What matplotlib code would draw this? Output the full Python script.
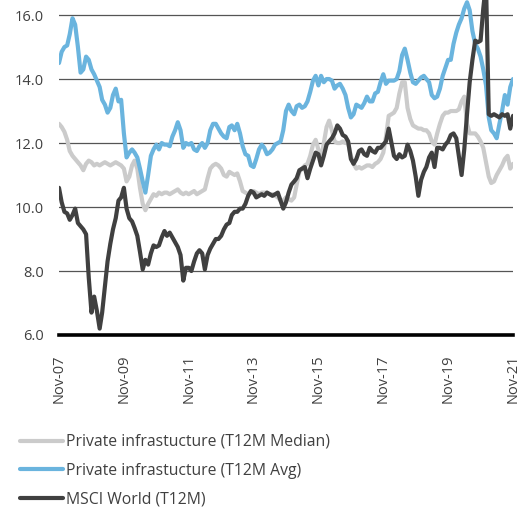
import matplotlib
matplotlib.use("Agg")
import matplotlib.pyplot as plt
import pandas as pd

dates = pd.date_range("2007-11-01", "2021-11-01", freq="MS")

tick_labels = ["Nov-07", "Nov-09", "Nov-11", "Nov-13", "Nov-15", "Nov-17", "Nov-19", "Nov-21"]
tick_dates = pd.to_datetime(["2007-11-01", "2009-11-01", "2011-11-01", "2013-11-01",
                             "2015-11-01", "2017-11-01", "2019-11-01", "2021-11-01"])

series_names = ["Private infrastucture (T12M Median)",
                "Private infrastucture (T12M Avg)",
                "MSCI World (T12M)"]

median_vals = [
    12.6, 12.5, 12.35, 12.1, 11.75, 11.6, 11.5, 11.4, 11.3, 11.15, 11.35, 11.45,
    11.4, 11.3, 11.35, 11.3, 11.35, 11.4, 11.35, 11.3, 11.35, 11.4, 11.35, 11.3,
    11.2, 10.8, 10.95, 11.3, 11.45, 11.2, 10.6, 10.1, 9.9, 10.1, 10.25, 10.4,
    10.35, 10.45, 10.4, 10.45, 10.45, 10.4, 10.45, 10.5, 10.55, 10.45, 10.4, 10.45,
    10.4, 10.45, 10.5, 10.4, 10.45, 10.5, 10.55, 10.9, 11.2, 11.3, 11.35, 11.3,
    11.2, 11.0, 10.95, 11.1, 11.05, 11.0, 11.05, 10.8, 10.5, 10.45, 10.4, 10.45,
    10.5, 10.45, 10.4, 10.45, 10.45, 10.45, 10.4, 10.4, 10.35, 10.3, 10.2, 10.2,
    10.3, 10.25, 10.2, 10.3, 10.7, 11.1, 11.2, 11.3, 11.35, 11.6, 11.95, 12.1,
    11.8, 11.5, 12.0, 12.5, 12.7, 12.4, 12.05, 12.0, 12.0, 12.05, 12.0, 12.0,
    11.6, 11.35, 11.2, 11.25, 11.2, 11.25, 11.3, 11.3, 11.25, 11.35, 11.4, 11.5,
    11.7, 12.2, 12.85, 12.9, 12.95, 13.1, 13.55, 13.9, 13.9, 13.1, 12.75, 12.55,
    12.5, 12.45, 12.45, 12.4, 12.4, 12.3, 12.05, 11.95, 12.3, 12.6, 12.85, 12.95,
    12.95, 13.0, 13.0, 13.0, 13.05, 13.3, 13.45, 12.6, 12.3, 12.3, 12.3, 12.2,
    12.05, 11.85, 11.4, 10.95, 10.75, 10.8, 11.0, 11.15, 11.3, 11.5, 11.6, 11.2,
    11.35,
]

avg_vals = [
    14.5, 14.85, 15.0, 15.05, 15.4, 15.9, 15.7, 15.0, 14.2, 14.3, 14.7, 14.6,
    14.3, 14.15, 13.95, 13.75, 13.35, 13.2, 12.95, 13.1, 13.5, 13.7, 13.3, 13.35,
    12.3, 11.55, 11.7, 11.8, 11.7, 11.55, 11.2, 10.8, 10.45, 11.0, 11.6, 11.8,
    11.95, 11.8, 12.0, 11.95, 11.95, 11.9, 12.2, 12.4, 12.65, 12.4, 11.85, 12.0,
    11.95, 12.0, 11.8, 11.75, 11.9, 12.0, 11.85, 12.0, 12.4, 12.6, 12.6, 12.45,
    12.3, 12.2, 12.15, 12.5, 12.55, 12.4, 12.6, 12.3, 11.9, 11.65, 11.6, 11.3,
    11.25, 11.5, 11.8, 11.95, 11.85, 11.65, 11.7, 11.8, 11.95, 12.0, 12.05, 12.4,
    13.0, 13.2, 13.0, 12.9, 13.15, 13.2, 13.1, 13.15, 13.3, 13.6, 13.95, 14.1,
    13.8, 14.1, 13.9, 14.0, 14.0, 13.95, 13.7, 13.8, 13.85, 13.7, 13.5, 13.1,
    12.8, 12.9, 13.2, 13.15, 13.1, 13.25, 13.45, 13.3, 13.3, 13.55, 13.6, 13.9,
    14.15, 13.85, 13.95, 13.95, 13.95, 14.0, 14.25, 14.75, 14.95, 14.6, 14.2, 13.9,
    13.85, 13.95, 14.05, 14.1, 14.0, 13.9, 13.5, 13.4, 13.45, 13.7, 14.1, 14.35,
    14.6, 14.6, 15.1, 15.45, 15.7, 15.9, 16.2, 16.4, 16.15, 15.5, 15.1, 14.95,
    14.7, 14.3, 13.8, 12.8, 12.4, 12.3, 12.15, 12.6, 13.0, 13.5, 13.2, 13.75,
    14.0,
]

msci_vals = [
    10.6, 10.15, 9.85, 9.8, 9.6, 9.75, 9.95, 9.5, 9.4, 9.3, 9.15, 7.8,
    6.7, 7.2, 6.75, 6.2, 6.7, 7.5, 8.3, 8.85, 9.3, 9.65, 10.2, 10.3,
    10.6, 9.95, 9.65, 9.55, 9.35, 9.1, 8.6, 8.05, 8.35, 8.2, 8.55, 8.8,
    8.75, 8.8, 9.05, 9.25, 9.1, 9.2, 9.05, 8.9, 8.75, 8.5, 7.7, 8.1,
    8.1, 8.0, 8.3, 8.55, 8.65, 8.55, 8.05, 8.5, 8.7, 8.85, 9.0, 9.0,
    9.1, 9.3, 9.45, 9.5, 9.75, 9.85, 9.85, 9.95, 9.95, 10.1, 10.35, 10.5,
    10.45, 10.3, 10.35, 10.4, 10.35, 10.45, 10.4, 10.35, 10.4, 10.45, 10.2, 9.95,
    10.15, 10.45, 10.7, 10.8, 10.9, 11.15, 11.2, 11.25, 10.9, 11.2, 11.45, 11.7,
    11.65, 11.3, 11.6, 11.95, 12.05, 12.15, 12.3, 12.55, 12.45, 12.25, 12.2, 12.05,
    11.5, 11.35, 11.5, 11.75, 11.8, 11.65, 11.6, 11.85, 11.75, 11.7, 11.85, 11.85,
    11.95, 12.05, 12.45, 12.0, 11.6, 11.5, 11.65, 11.55, 11.6, 11.95, 11.75, 11.45,
    10.95, 10.35, 10.85, 11.1, 11.25, 11.55, 11.7, 11.25, 11.85, 11.85, 11.8, 11.95,
    12.05, 12.25, 12.3, 12.15, 11.6, 11.0, 11.8, 12.9, 13.9, 14.6, 15.2, 15.15,
    15.2, 16.2, 17.0, 12.9, 12.85, 12.9, 12.85, 12.8, 12.9, 12.85, 12.9, 12.45,
    12.85,
]

colors = ["#cbcbcb", "#6ab4de", "#404040"]

plt.rcParams["font.family"] = ["Open Sans", "DejaVu Sans"]

fig = plt.figure(figsize=(5.22, 5.07), dpi=100)
ax = fig.add_axes([59 / 522, 1 - 335 / 507, 454 / 522, 335 / 507])

for vals, c, name in zip([median_vals, avg_vals, msci_vals], colors, series_names):
    ax.plot(dates, vals, color=c, lw=3.0, label=name, solid_joinstyle="round",
            solid_capstyle="round")

ax.set_ylim(6.0, 16.47)
ax.set_xlim(dates[0], dates[-1])
ax.set_yticks([6, 8, 10, 12, 14, 16])
ax.set_yticklabels(["6.0", "8.0", "10.0", "12.0", "14.0", "16.0"])
ax.set_xticks(tick_dates)
ax.set_xticklabels(tick_labels, rotation=90)

for y in [8, 10, 12, 14, 16]:
    ax.axhline(y, color="#555555", lw=0.9, zorder=0)

for s in ["top", "right", "left"]:
    ax.spines[s].set_visible(False)
ax.spines["bottom"].set_color("black")
ax.spines["bottom"].set_linewidth(2.6)
ax.spines["bottom"].set_zorder(5)

ax.tick_params(axis="both", length=0, labelsize=10.5, colors="#404040")
ax.tick_params(axis="y", pad=11)
ax.tick_params(axis="x", pad=14)

leg = fig.legend(loc="upper left", bbox_to_anchor=(20 / 522, 1 - 434 / 507), frameon=False,
                 fontsize=11.3, handlelength=2.75, handletextpad=0.2, labelspacing=0.8,
                 borderaxespad=0, borderpad=0)
for t in leg.get_texts():
    t.set_color("#404040")
for h in leg.get_lines():
    h.set_linewidth(3.0)

fig.savefig("out.png", dpi=100)
